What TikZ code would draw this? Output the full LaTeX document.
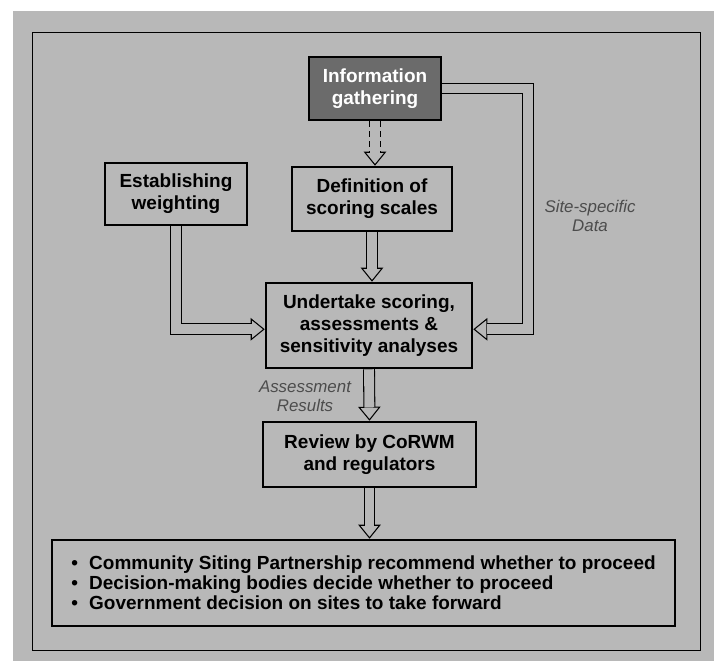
\documentclass[tikz,border=0pt]{standalone}
\usepackage{fontspec}
\setmainfont{Liberation Sans}
\usetikzlibrary{arrows.meta,positioning}

\definecolor{bggray}{gray}{0.72}
\definecolor{darkbox}{gray}{0.42}

\pgfdeclarelayer{back}
\pgfsetlayers{back,main}

\tikzset{
  stage/.style={draw=black, line width=1.8pt, fill=bggray, align=center, inner sep=0pt,
    font=\bfseries\fontsize{13.5}{15.5}\selectfont},
  flowlbl/.style={align=center, text=black!70, font=\itshape\fontsize{12}{13.5}\selectfont},
  hollow/.style={draw=black, line width=0.75pt, dash pattern=on 0pt off 2000pt,
    -{Triangle[length=0.35cm, width=0.56cm, fill=bggray]},
    postaction={draw=black, -, solid, line width=0.75pt, double=bggray, double distance=7pt,
      shorten >=0.33cm, #1}},
  hollow/.default={}
}

\begin{document}
\begin{tikzpicture}[x=0.025cm, y=0.025cm]
    \useasboundingbox (0,0) rectangle (714,-671);

    % Page background
    \begin{pgfonlayer}{back}
    \fill [bggray] (13,-11) rectangle (714,-661);
    \draw [line width=0.6pt] (32,-32) rectangle (700,-650);
    \end{pgfonlayer}

    % Stages
    \node [stage, fill=darkbox, text=white, minimum width=3.3cm, minimum height=1.575cm]
        (info) at (375,-88.5) {Information\\gathering};
    \node [stage, minimum width=3.55cm, minimum height=1.55cm]
        (weight) at (176,-194) {Establishing\\weighting};
    \node [stage, minimum width=4cm, minimum height=1.6cm]
        (scales) at (372,-199) {Definition of\\scoring scales};
    \node [stage, minimum width=5.15cm, minimum height=2.125cm]
        (score) at (369,-325.5) {Undertake scoring,\\assessments \&\\sensitivity analyses};
    \node [stage, minimum width=5.325cm, minimum height=1.625cm]
        (review) at (369.5,-454.5) {Review by CoRWM\\and regulators};
    \node [stage, align=left, minimum width=15.575cm, minimum height=2.15cm,
        font=\bfseries\fontsize{13.5}{14.3}\selectfont]
        (outcome) at (363.5,-583) {\textbullet\hspace{8pt}Community Siting Partnership recommend whether to proceed\\
        \textbullet\hspace{8pt}Decision-making bodies decide whether to proceed\\
        \textbullet\hspace{8pt}Government decision on sites to take forward};

    % Labels
    \node [flowlbl] (sitelbl) at (590,-216) {Site-specific\\Data};
    \node [flowlbl] (reslbl) at (305,-396) {Assessment\\Results};

    % Connectors
    \coordinate (bend) at (528,-88.5);
    \begin{pgfonlayer}{back}
    \draw [hollow={dash pattern=on 4.3pt off 2.8pt}] (info.south) -- (info.south |- scales.north);
    \draw [hollow] (scales.south) -- (scales.south |- score.north);
    \draw [hollow] (weight.south) |- ([yshift=1cm]score.south west);
    \draw [hollow] (info.east) -- (bend) |- ([yshift=1cm]score.south east);
    \draw [hollow] (score.south) -- (review.north);
    \draw [hollow] (review.south) -- (review.south |- outcome.north);
    \end{pgfonlayer}
\end{tikzpicture}
\end{document}
